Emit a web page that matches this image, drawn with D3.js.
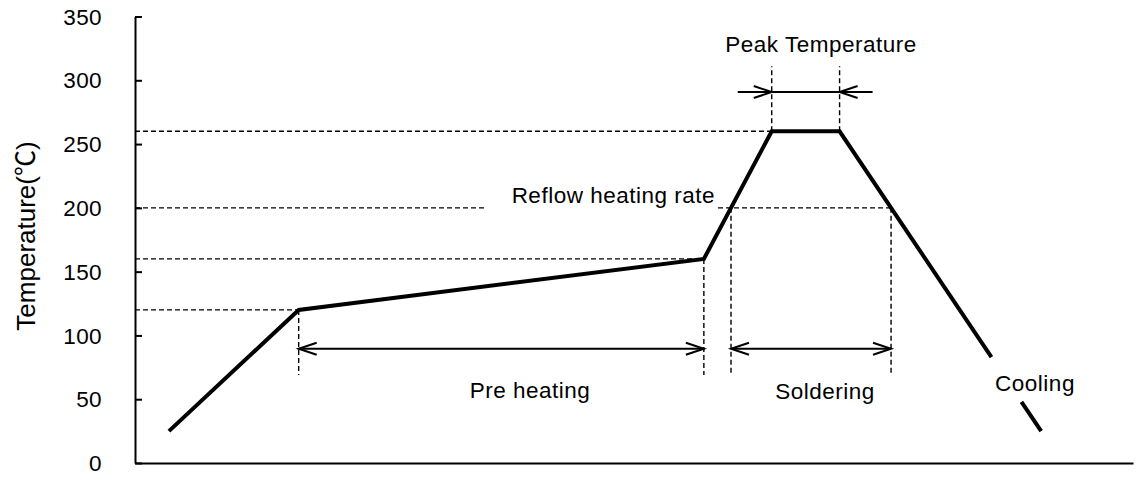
<!DOCTYPE html>
<html>
<head>
<meta charset="utf-8">
<script src="https://cdn.jsdelivr.net/npm/d3@7"></script>
<style>
  html, body { margin: 0; padding: 0; background: #fff; }
  svg { display: block; font-family: "Liberation Sans", Arial, "Noto Sans CJK JP", sans-serif; }
</style>
</head>
<body>
<svg id="chart" width="1148" height="479"></svg>
<script>
// ---- data ----
const profileTime = [17, 82, 285, 319, 353, 454];      // s (arbitrary time axis, no tick labels)
const profileTemp = [25, 120, 160, 260, 260, 25];      // °C
const yTickValues = [0, 50, 100, 150, 200, 250, 300, 350];
const coolingGapTemps = [83, 48];                      // gap in cooling line around label
const refTemps = [120, 160, 200, 260];
const yAxisTitle = "Temperature(℃)";
const labelPeak = "Peak Temperature";
const labelRate = "Reflow heating rate";
const labelPre = "Pre heating";
const labelSolder = "Soldering";
const labelCool = "Cooling";

// ---- scales ----
const svg = d3.select("#chart");
const x = d3.scaleLinear().domain([0, 500]).range([135, 1133]);
const y = d3.scaleLinear().domain([0, 350]).range([463, 16.5]);

const pts = profileTime.map((t, i) => ({t, T: profileTemp[i]}));
function tOnSeg(a, b, T) { return a.t + (T - a.T) / (b.T - a.T) * (b.t - a.t); }

const p120 = pts[1], p160 = pts[2], pPk1 = pts[3], pPk2 = pts[4], pEnd = pts[5];
const tSolderStart = tOnSeg(p160, pPk1, 200);
const tSolderEnd = tOnSeg(pPk2, pEnd, 200);

// ---- axes ----
const yAxis = d3.axisLeft(y).tickValues(yTickValues).tickSizeInner(-7).tickSizeOuter(0).tickPadding(33);
const gy = svg.append("g").attr("transform", `translate(${x(0)},0)`).call(yAxis);
gy.select(".domain").attr("stroke", "#000").attr("stroke-width", 2);
gy.selectAll(".tick line").attr("stroke", "#000").attr("stroke-width", 2);
gy.selectAll(".tick text").attr("fill", "#000").attr("font-size", 22.5)
  .attr("font-family", "Liberation Sans, Arial, sans-serif")
  .attr("letter-spacing", "0.4px").attr("dy", "0.34em");

const xAxis = d3.axisBottom(x).tickValues([]).tickSizeOuter(0);
const gx = svg.append("g").attr("transform", `translate(0,${y(0)})`).call(xAxis);
gx.select(".domain").attr("stroke", "#000").attr("stroke-width", 2);

svg.append("text")
  .attr("transform", `translate(35,${236}) rotate(-90)`)
  .attr("text-anchor", "middle").attr("font-size", 26).attr("fill", "#000")
  .text(yAxisTitle);

// ---- dashed reference lines ----
const dash = svg.append("g").attr("stroke", "#000").attr("stroke-width", 1.4)
  .attr("stroke-dasharray", "5,3").attr("fill", "none");
function hdash(T, t0px, t1px) {
  dash.append("line").attr("x1", t0px).attr("x2", t1px).attr("y1", y(T)).attr("y2", y(T));
}
function vdash(t, T0, T1) {
  dash.append("line").attr("x1", x(t)).attr("x2", x(t)).attr("y1", y(T0)).attr("y2", y(T1));
}
hdash(refTemps[0], x(0), x(p120.t));
hdash(refTemps[1], x(0), x(p160.t));
hdash(refTemps[2], x(0), 485);
hdash(refTemps[2], 718, x(tSolderEnd));
hdash(refTemps[3], x(0), x(pPk1.t));

const dimBottom = 69, pkTop = 311;
vdash(p120.t, p120.T, dimBottom);
vdash(p160.t, p160.T, dimBottom);
vdash(tSolderStart, 200, dimBottom);
vdash(tSolderEnd, 200, dimBottom);
vdash(pPk1.t, pPk1.T, pkTop);
vdash(pPk2.t, pPk2.T, pkTop);

// ---- profile line ----
const tGap0 = tOnSeg(pPk2, pEnd, coolingGapTemps[0]);
const tGap1 = tOnSeg(pPk2, pEnd, coolingGapTemps[1]);
const drawPts = [pts[0], p120, p160, pPk1, pPk2, {t: tGap0, T: coolingGapTemps[0]}, null,
                 {t: tGap1, T: coolingGapTemps[1]}, pEnd];
const line = d3.line().defined(d => d !== null).x(d => x(d.t)).y(d => y(d.T));
svg.append("path").datum(drawPts).attr("d", line)
  .attr("fill", "none").attr("stroke", "#000").attr("stroke-width", 4)
  .attr("stroke-linejoin", "miter").attr("stroke-linecap", "butt");

// ---- dimension arrows ----
const arr = svg.append("g").attr("stroke", "#000").attr("stroke-width", 2).attr("fill", "none");
const AL = 18, AW = 6;
function chevron(tipX, yy, dir) { // dir=+1 opening to the right, -1 opening to the left
  arr.append("path").attr("d",
    `M${tipX + dir * AL},${yy - AW}L${tipX},${yy}L${tipX + dir * AL},${yy + AW}`);
}
function spanArrow(t0, t1, T) {
  const yy = y(T), a = x(t0), b = x(t1);
  arr.append("line").attr("x1", a).attr("x2", b).attr("y1", yy).attr("y2", yy);
  chevron(a, yy, 1); chevron(b, yy, -1);
}
spanArrow(p120.t, p160.t, 89.5);
spanArrow(tSolderStart, tSolderEnd, 89.5);
// peak: arrows pointing inward from outside
{
  const yy = y(290.8), a = x(pPk1.t), b = x(pPk2.t);
  arr.append("line").attr("x1", a - 34).attr("x2", b + 33).attr("y1", yy).attr("y2", yy);
  chevron(a, yy, -1); chevron(b, yy, 1);
}

// ---- labels ----
const lab = svg.append("g").attr("font-size", 22.5).attr("fill", "#000").attr("letter-spacing", "0.5px");
lab.append("text").attr("x", 821).attr("y", 52).attr("text-anchor", "middle").text(labelPeak);
lab.append("text").attr("x", 715).attr("y", 203).attr("text-anchor", "end").text(labelRate);
lab.append("text").attr("x", 530).attr("y", 398).attr("text-anchor", "middle").text(labelPre);
lab.append("text").attr("x", 825).attr("y", 399).attr("text-anchor", "middle").text(labelSolder);
lab.append("text").attr("x", 1035).attr("y", 391).attr("text-anchor", "middle").text(labelCool);
</script>
</body>
</html>
